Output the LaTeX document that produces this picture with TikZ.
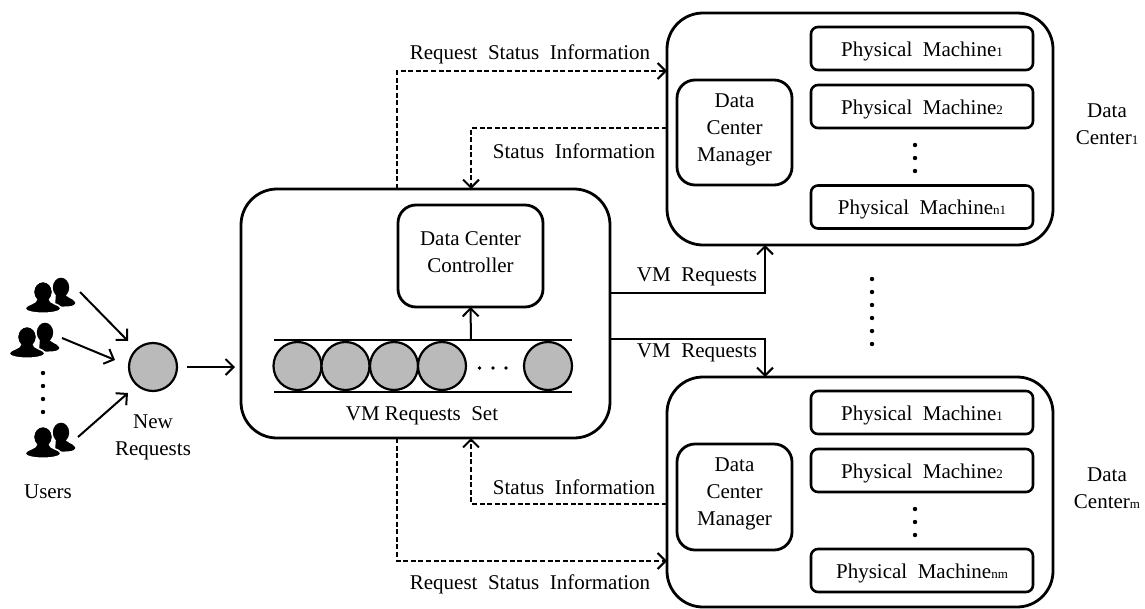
\documentclass[tikz,border=0pt]{standalone}
\usepackage{fontspec}
\setmainfont{Liberation Serif}
\usetikzlibrary{arrows.meta}
\tikzset{
  x=1pt,y=-1pt,
  every node/.style={font=\fontsize{21}{27}\selectfont,inner sep=0pt,outer sep=0pt,align=center},
  bigbox/.style={draw,line width=2.8pt,rounded corners=36pt,fill=white},
  midbox/.style={draw,line width=2.8pt,rounded corners=18pt,fill=white},
  pmbox/.style={draw,line width=2.6pt,rounded corners=7pt,fill=white,minimum width=222pt,minimum height=43pt,text height=20pt,text depth=4.5pt},
  req/.style={draw,circle,line width=2.2pt,fill=black!27,minimum size=48pt},
  link/.style={line width=2pt,-{Straight Barb[length=8pt,width=16pt,line width=2pt]}},
  dlink/.style={link,dash pattern=on 5pt off 2.6pt},
  dotm/.style={circle,fill=black,minimum size=4.4pt},
  usericon/.pic={
    \fill[black] (18,-4.5) ellipse (8.2 and 9.8);
    \fill[black] (13,1) -- (22,1) .. controls (22,6) and (30,6) .. (32,10) .. controls (34,15) and (20,15) .. (12,14) -- cycle;
    \fill[black,draw=white,line width=1.6pt] (0,0) ellipse (9.4 and 10.4);
    \fill[black,draw=white,line width=1.6pt] (-6,6) .. controls (-6,12) and (-17,12) .. (-18,16) .. controls (-19,23) and (19,23) .. (18,16) .. controls (17,12) and (6,12) .. (6,6) -- cycle;
    \fill[black] (0,0) ellipse (8.6 and 9.6);
  }
}
\newcommand{\sbs}[1]{{\fontsize{13}{13}\selectfont #1}}
\begin{document}
\begin{tikzpicture}
\useasboundingbox (0,0) rectangle (1145,608);
% users
\pic at (43,292) {usericon};
\pic at (27,337) {usericon};
\pic at (43,437) {usericon};
\coordinate (u1) at (80,292);
\coordinate (u2) at (62,338);
\coordinate (u3) at (78,437);
\node[dotm] (ud1) at (43,373) {};
\node[dotm] (ud2) at (43,386) {};
\node[dotm] (ud3) at (43,399) {};
\node[dotm] (ud4) at (43,412) {};
\node (users) at (48,492) {Users};
% new request
\node[req] (new) at (153,367) {};
\node (newlab) at (153,437) {New\\Requests};
\coordinate (newa) at (128,341);
\coordinate (newb) at (115,360);
\coordinate (newc) at (128,393);
\draw[link] (u1) -- (newa);
\draw[link] (u2) -- (newb);
\draw[link] (u3) -- (newc);
% main box
\node[bigbox,minimum width=369pt,minimum height=249pt] (main) at (425.5,313.5) {};
\node[midbox,minimum width=145pt,minimum height=102pt] (ctrl) at (470.5,256) {Data Center\\Controller\\[-20pt]};
\coordinate (qtl) at (274,340);
\coordinate (qtr) at (572,340);
\coordinate (qbl) at (274,392);
\coordinate (qbr) at (572,392);
\draw[line width=2.2pt] (qtl) -- (qtr);
\draw[line width=2.2pt] (qbl) -- (qbr);
\node[req] (q1) at (297.5,366) {};
\node[req] (q2) at (345.5,366) {};
\node[req] (q3) at (394,366) {};
\node[req] (q4) at (442,366) {};
\node[req] (q5) at (548,366) {};
\node[dotm,minimum size=3.8pt] (qd1) at (479.5,368) {};
\node[dotm,minimum size=3.8pt] (qd2) at (493,368) {};
\node[dotm,minimum size=3.8pt] (qd3) at (506,368) {};
\node (qlab) at (422,416) {VM Requests\ \ Set};
\coordinate (qup) at (471,340);
\draw[link] (qup) -- (ctrl.south);
\coordinate (mi) at (235,367);
\draw[link] (187,367) -- (mi);
% data center 1
\node[bigbox,minimum width=386pt,minimum height=232pt] (dca) at (860,129) {};
\node[midbox,minimum width=115pt,minimum height=105pt] (mga) at (734.5,132.5) {Data\\Center\\Manager\\[-18pt]};
\node[pmbox] (pa1) at (922,48.5) {Physical\ \ Machine\sbs{1}};
\node[pmbox] (pa2) at (922,106.5) {Physical\ \ Machine\sbs{2}};
\node[pmbox] (pa3) at (922,207) {Physical\ \ Machine\sbs{n1}};
\node[dotm] (pad1) at (915,145) {};
\node[dotm] (pad2) at (915,158) {};
\node[dotm] (pad3) at (915,171) {};
\node (laba) at (1107,124.5) {Data\\Center\sbs{1}};
% data center m
\node[bigbox,minimum width=386pt,minimum height=230pt] (dcb) at (860,492) {};
\node[midbox,minimum width=115pt,minimum height=106pt] (mgb) at (734.5,497) {Data\\Center\\Manager\\[-16pt]};
\node[pmbox] (pb1) at (922,412.5) {Physical\ \ Machine\sbs{1}};
\node[pmbox] (pb2) at (922,470.5) {Physical\ \ Machine\sbs{2}};
\node[pmbox] (pb3) at (922,570.5) {Physical\ \ Machine\sbs{nm}};
\node[dotm] (pbd1) at (915,509) {};
\node[dotm] (pbd2) at (915,522) {};
\node[dotm] (pbd3) at (915,535) {};
\node (labb) at (1107,488) {Data\\Center\sbs{m}};
% dots between
\node[dotm] (d1) at (872,279) {};
\node[dotm] (d2) at (872,292) {};
\node[dotm] (d3) at (872,305) {};
\node[dotm] (d4) at (872,318) {};
\node[dotm] (d5) at (872,331) {};
\node[dotm] (d6) at (872,344) {};
% connectors
\coordinate (m1) at (397,189);
\coordinate (a1) at (667,71);
\draw[dlink] (m1) |- (a1);
\node (t1) at (530,54) {Request\ \ Status\ \ Information};
\coordinate (a2) at (667,128);
\coordinate (m2) at (471,189);
\draw[dlink] (a2) -| (m2);
\node (t2) at (574,151) {Status\ \ Information};
\coordinate (m3) at (610,293);
\coordinate (a3) at (765,245);
\draw[link] (m3) -| (a3);
\node (t3) at (697,277) {VM\ \ Requests};
\coordinate (m4) at (610,339);
\coordinate (b4) at (765,377);
\draw[link] (m4) -| (b4);
\node (t4) at (697,353) {VM\ \ Requests};
\coordinate (b5) at (667,504);
\coordinate (m5) at (471,438);
\draw[dlink] (b5) -| (m5);
\node (t5) at (574,487) {Status\ \ Information};
\coordinate (m6) at (397,438);
\coordinate (b6) at (667,561);
\draw[dlink] (m6) |- (b6);
\node (t6) at (530,584) {Request\ \ Status\ \ Information};
\end{tikzpicture}
\end{document}
